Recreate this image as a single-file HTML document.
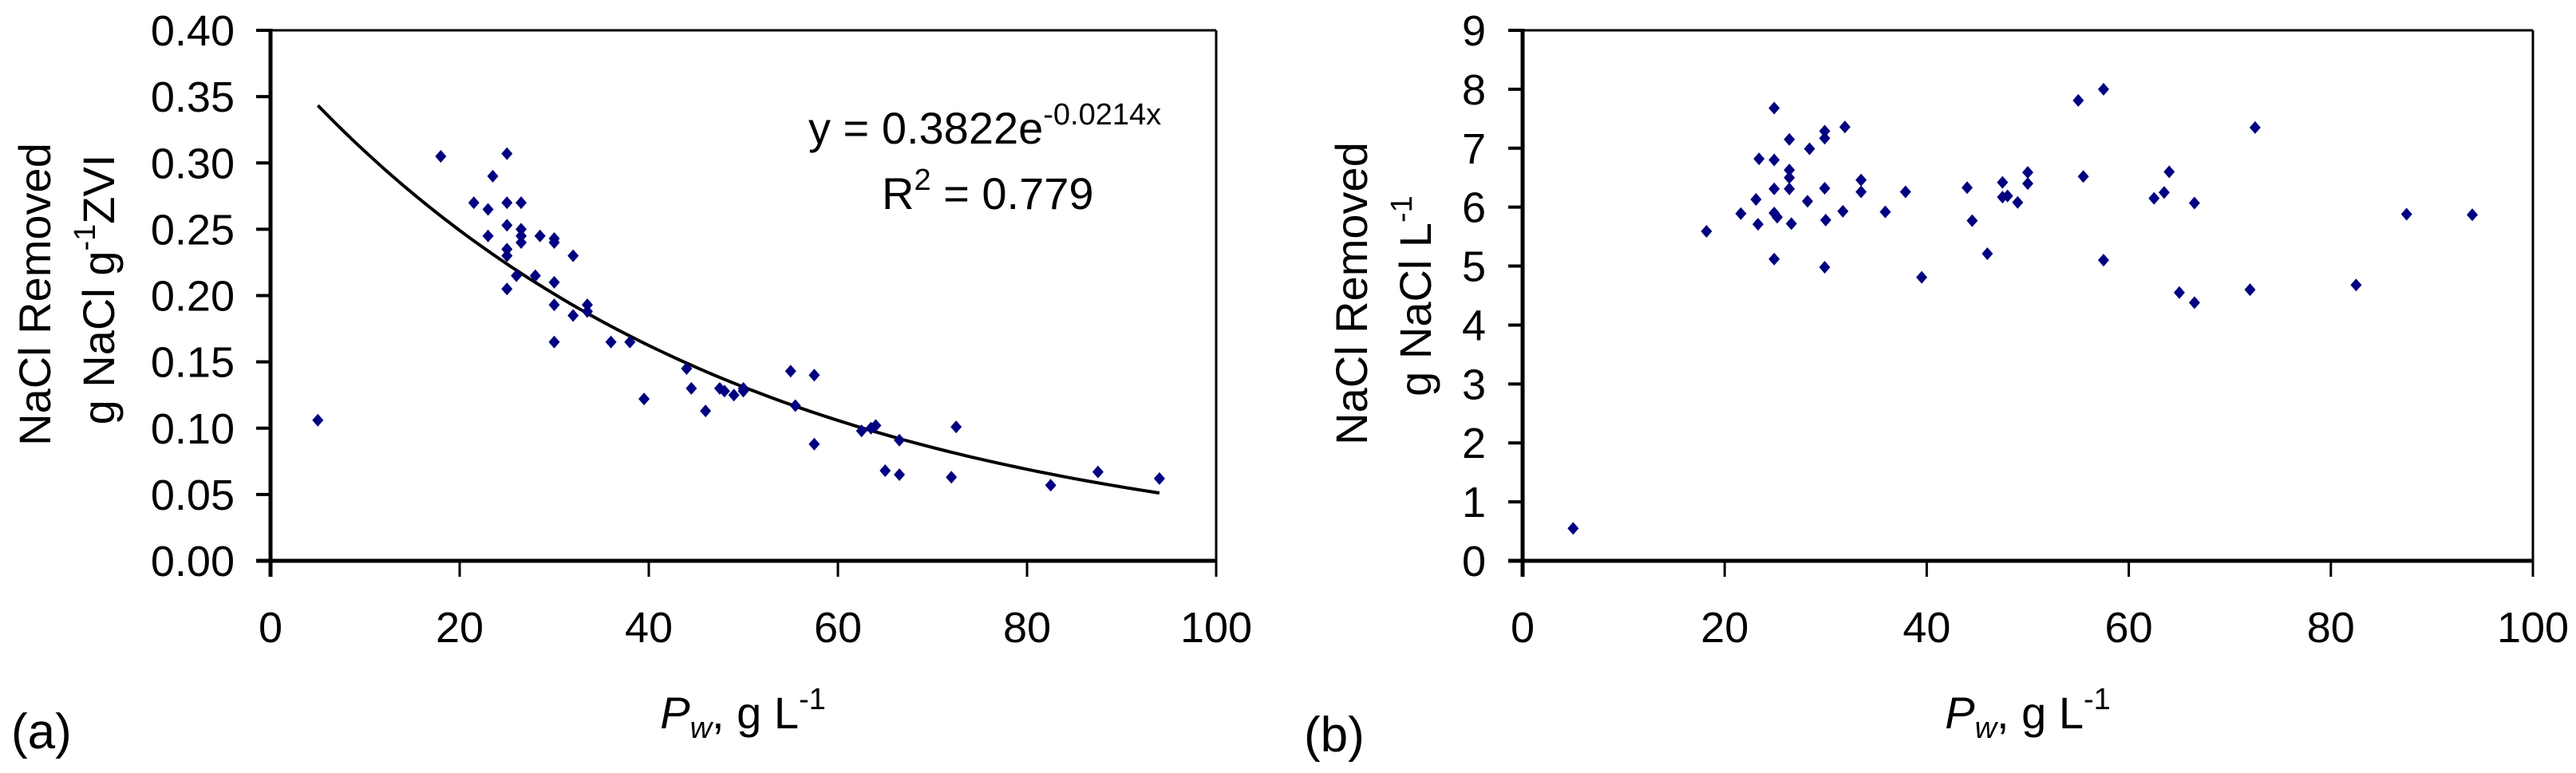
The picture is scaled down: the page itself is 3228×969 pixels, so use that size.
<!DOCTYPE html>
<html><head><meta charset="utf-8"><style>
html,body{margin:0;padding:0;background:#fff;}
svg{display:block;font-family:"Liberation Sans",Arial,sans-serif;}
</style></head><body>
<svg id="fig" width="3228" height="969" viewBox="0 0 3228 969" xmlns="http://www.w3.org/2000/svg">
<g id="pa"></g>
<g id="pb"></g>
</svg>
<script>
// Panel (a) data
const aX = [5,18,21.5,23,23.5,23,25,25,25,25,25,25,26.5,26.5,26.5,26.5,26,28.5,28,30,30,30,30,30,32,32,33.5,33.5,36,38,39.5,44,44.5,46,47.5,48,49,50,50,55,55.5,57.5,57.5,62.5,63.5,64,65,66.5,66.5,72,72.5,82.5,87.5,94];
const aY = [0.106,0.305,0.270,0.265,0.290,0.245,0.307,0.270,0.253,0.235,0.230,0.205,0.270,0.250,0.245,0.240,0.215,0.245,0.215,0.243,0.240,0.210,0.193,0.165,0.230,0.185,0.193,0.188,0.165,0.165,0.122,0.145,0.130,0.113,0.130,0.128,0.125,0.130,0.128,0.143,0.117,0.140,0.088,0.098,0.100,0.102,0.068,0.065,0.091,0.063,0.101,0.057,0.067,0.062];
const aYTicks = ["0.00","0.05","0.10","0.15","0.20","0.25","0.30","0.35","0.40"];
const xTicks = ["0","20","40","60","80","100"];
const fitA = 0.3822, fitK = -0.0214, fitRange = [5,94];
// Panel (b) data
const bX = [5,18.2,21.6,23.1,23.3,23.4,24.9,24.9,24.9,24.9,25.2,24.9,26.4,26.4,26.4,26.4,26.6,28.4,28.2,29.9,29.9,29.9,30,29.9,31.9,31.7,33.5,33.5,35.9,37.9,39.5,44,44.5,46,47.5,47.5,48,49,50,50,55,55.5,57.5,57.5,62.5,63.5,64,65,66.5,66.5,72,72.5,82.5,87.5,94];
const bY = [0.55,5.59,5.89,6.13,5.71,6.82,7.68,6.80,6.31,5.90,5.83,5.12,7.15,6.63,6.50,6.31,5.72,6.99,6.10,7.29,7.17,6.32,5.78,4.98,7.36,5.93,6.46,6.26,5.92,6.26,4.81,6.33,5.77,5.21,6.42,6.17,6.19,6.08,6.59,6.40,7.81,6.52,8.0,5.1,6.15,6.25,6.6,4.55,4.38,6.07,4.6,7.35,4.68,5.88,5.87];
const bYTicks = ["0","1","2","3","4","5","6","7","8","9"];

const NS="http://www.w3.org/2000/svg";
function mk(parent, tag, attrs, text){
  const e=document.createElementNS(NS,tag);
  for(const k in attrs) e.setAttribute(k,attrs[k]);
  if(text!==undefined) e.textContent=text;
  parent.appendChild(e); return e;
}
function panel(g, cfg){
  const {x0,x1,yTop,yBot,ymax,yticks,xs,ys} = cfg;
  const sx = v => x0 + (v/100)*(x1-x0);
  const sy = v => yBot - (v/ymax)*(yBot-yTop);
  // frame
  const top = mk(g,'line',{x1:x0,y1:yTop,x2:x1,y2:yTop,stroke:'#000','stroke-width':3});
  
  
  const right = mk(g,'line',{x1:x1,y1:yTop,x2:x1,y2:yBot+20,stroke:'#000','stroke-width':3});
  
  
  const yax = mk(g,'line',{x1:x0,y1:yTop-2,x2:x0,y2:yBot+20,stroke:'#000','stroke-width':5});
  
  
  const xax = mk(g,'line',{x1:x0-18,y1:yBot,x2:x1,y2:yBot,stroke:'#000','stroke-width':5});
  
  
  // y ticks
  yticks.forEach((t,i)=>{
    const v = ymax*i/(yticks.length-1);
    const y = sy(v);
    const tk = mk(g,'line',{x1:x0-18,y1:y,x2:x0,y2:y,stroke:'#000','stroke-width':4});
    
    
    const lb = mk(g,'text',{x:cfg.ylabX,y:y+19,'text-anchor':'end','font-size':54},t);
    
    
  });
  xTicks.forEach((t,i)=>{
    const x = sx(100*i/(xTicks.length-1));
    const tk = mk(g,'line',{x1:x,y1:yBot,x2:x,y2:yBot+20,stroke:'#000','stroke-width':3});
    
    
    const lb = mk(g,'text',{x:x,y:805,'text-anchor':'middle','font-size':54},t);
    
    
  });
  if(cfg.fit){
    let d='';
    for(let i=0;i<=100;i++){
      const xv = fitRange[0]+(fitRange[1]-fitRange[0])*i/100;
      const yv = fitA*Math.exp(fitK*xv);
      d += (i?'L':'M')+sx(xv).toFixed(1)+' '+sy(yv).toFixed(1);
    }
    const p = mk(g,'path',{d:d,fill:'none',stroke:'#000','stroke-width':4});
    
    
  }
  xs.forEach((xv,i)=>{
    const cx=sx(xv), cy=sy(ys[i]);
    const m = mk(g,'path',{d:`M${cx} ${cy-8}L${cx+7} ${cy}L${cx} ${cy+8}L${cx-7} ${cy}Z`,fill:'#000080'});
    
    
  });
}
panel(document.getElementById('pa'),{x0:339,x1:1524,yTop:38,yBot:703,ymax:0.40,yticks:aYTicks,xs:aX,ys:aY,ylabX:294,fit:true});
panel(document.getElementById('pb'),{x0:1908,x1:3174,yTop:38,yBot:703,ymax:9,yticks:bYTicks,xs:bX,ys:bY,ylabX:1862,fit:false});
</script>
<svg style="position:absolute;left:0;top:0" width="3228" height="969" xmlns="http://www.w3.org/2000/svg">
  <g font-family="Liberation Sans, Arial, sans-serif" fill="#000">
    <text x="1013" y="180" font-size="56">y = 0.3822e<tspan dy="-24" font-size="38">-0.0214x</tspan></text>
    <text x="1105" y="262" font-size="56">R<tspan dy="-24" font-size="38">2</tspan><tspan dy="24"> = 0.779</tspan></text>
    <g transform="translate(63,369) rotate(-90)">
      <text x="0" y="0" font-size="56" text-anchor="middle">NaCl Removed</text>
    </g>
    <g transform="translate(143,363) rotate(-90)">
      <text x="0" y="0" font-size="56" text-anchor="middle">g NaCl g<tspan dy="-24" font-size="38">-1</tspan><tspan dy="24">ZVI</tspan></text>
    </g>
    <g transform="translate(1713,368) rotate(-90)">
      <text x="0" y="0" font-size="56" text-anchor="middle">NaCl Removed</text>
    </g>
    <g transform="translate(1793,371) rotate(-90)">
      <text x="0" y="0" font-size="56" text-anchor="middle">g NaCl L<tspan dy="-24" font-size="38">-1</tspan></text>
    </g>
    <text x="931" y="913" font-size="56" text-anchor="middle"><tspan font-style="italic">P</tspan><tspan font-style="italic" font-size="38" dy="12">w</tspan><tspan dy="-12">, g L</tspan><tspan dy="-24" font-size="38">-1</tspan></text>
    <text x="2541" y="913" font-size="56" text-anchor="middle"><tspan font-style="italic">P</tspan><tspan font-style="italic" font-size="38" dy="12">w</tspan><tspan dy="-12">, g L</tspan><tspan dy="-24" font-size="38">-1</tspan></text>
    <text x="14" y="938" font-size="62">(a)</text>
    <text x="1634" y="942" font-size="62">(b)</text>
  </g>
</svg>
</body></html>
